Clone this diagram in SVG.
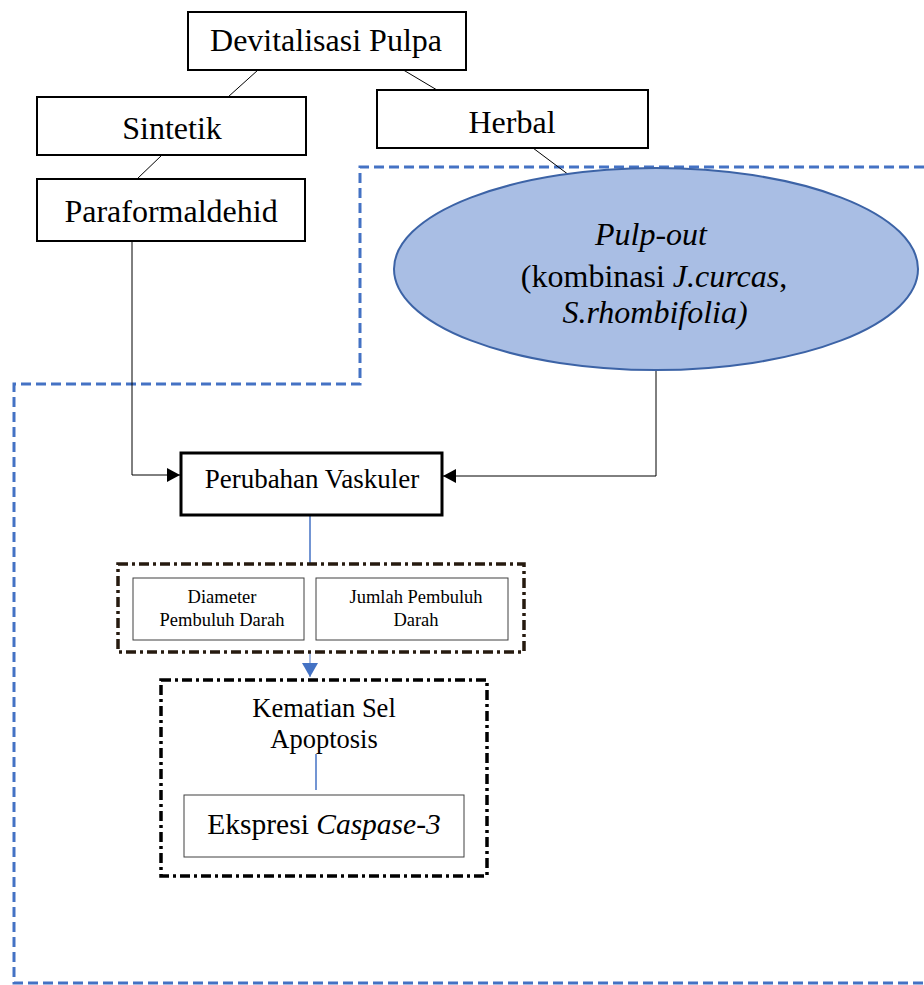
<svg xmlns="http://www.w3.org/2000/svg" width="924" height="985" viewBox="0 0 924 985" font-family="Liberation Serif, Times New Roman, Times, serif">
<defs>
<style>
text{fill:#000;text-anchor:middle}
.box{fill:#fff;stroke:#000;stroke-width:2}
.thin{fill:#fff;stroke:#404040;stroke-width:1}
.ln{fill:none;stroke:#000;stroke-width:1}
.bl{fill:none;stroke:#4472C4;stroke-width:1.5}
.dd{fill:none;stroke-width:3.5;stroke-dasharray:10 4 3 4}
</style>
<marker id="ah" markerWidth="13" markerHeight="14" refX="10" refY="5" orient="auto" markerUnits="userSpaceOnUse" viewBox="0 0 10 10" preserveAspectRatio="none">
<path d="M0,0 L10,5 L0,10 Z" fill="#000"/>
</marker>
<marker id="bh" markerWidth="14" markerHeight="16" refX="10" refY="5" orient="auto" markerUnits="userSpaceOnUse" viewBox="0 0 10 10" preserveAspectRatio="none">
<path d="M0,0 L10,5 L0,10 Z" fill="#4472C4"/>
</marker>
</defs>
<rect width="924" height="985" fill="#fff"/>
<path d="M924,167 H360 V384 H14 V983 H924" fill="none" stroke="#4472C4" stroke-width="3" stroke-dasharray="10 5"/>
<g id="connectors">
<line class="ln" x1="258" y1="70" x2="228" y2="97"/>
<line class="ln" x1="395" y1="65" x2="437" y2="90"/>
<line class="ln" x1="162" y1="155" x2="137" y2="179"/>
<line class="ln" x1="533" y1="148" x2="569" y2="175"/>
<path class="ln" d="M132,235 V475 H180" marker-end="url(#ah)"/>
<path class="ln" d="M656,370 V476 H443" marker-end="url(#ah)"/>
<line class="bl" x1="310" y1="515" x2="310" y2="563"/>
<line x1="310" y1="652" x2="310" y2="677" stroke="#8EA9DB" stroke-width="1.5" marker-end="url(#bh)"/>
<line class="bl" x1="316" y1="754" x2="316" y2="790"/>
</g>
<g id="devitalisasi">
<rect class="box" x="188" y="12" width="278" height="58"/>
<text x="326" y="51" font-size="32">Devitalisasi Pulpa</text>
</g>
<g id="sintetik">
<rect class="box" x="37" y="97" width="269" height="58"/>
<text x="172" y="139" font-size="32">Sintetik</text>
</g>
<g id="herbal">
<rect class="box" x="377" y="90" width="271" height="58"/>
<text x="512" y="133" font-size="32">Herbal</text>
</g>
<g id="paraformaldehid">
<rect class="box" x="37" y="179" width="268" height="62"/>
<text x="171" y="222" font-size="32">Paraformaldehid</text>
</g>
<g id="pulpout">
<ellipse cx="656" cy="269" rx="262" ry="101" fill="#A9BEE4" stroke="#3C63A6" stroke-width="2"/>
<text x="651" y="245" font-size="32" font-style="italic">Pulp-out</text>
<text x="654" y="287" font-size="32">(kombinasi <tspan font-style="italic">J.curcas</tspan>,</text>
<text x="655" y="323" font-size="32" font-style="italic">S.rhombifolia)</text>
</g>
<g id="perubahan">
<rect x="181" y="453" width="261" height="62" fill="#fff" stroke="#000" stroke-width="3"/>
<text x="312" y="488" font-size="27">Perubahan Vaskuler</text>
</g>
<g id="vaskuler-group">
<rect class="dd" x="118" y="564" width="406" height="88" stroke="#261A0F"/>
</g>
<g id="diameter">
<rect class="thin" x="133" y="578" width="171" height="62"/>
<text x="222" y="603" font-size="18.5">Diameter</text>
<text x="222" y="626" font-size="18.5">Pembuluh Darah</text>
</g>
<g id="jumlah">
<rect class="thin" x="316" y="578" width="192" height="62"/>
<text x="416" y="603" font-size="18.5">Jumlah Pembuluh</text>
<text x="416" y="626" font-size="18.5">Darah</text>
</g>
<g id="kematian">
<rect class="dd" x="161" y="680" width="326" height="196" stroke="#000"/>
<text x="324" y="717" font-size="26.5">Kematian Sel</text>
<text x="324" y="748" font-size="26.5">Apoptosis</text>
</g>
<g id="ekspresi">
<rect class="thin" x="184" y="795" width="280" height="62"/>
<text x="324" y="834" font-size="29.5">Ekspresi <tspan font-style="italic">Caspase-3</tspan></text>
</g>
</svg>
